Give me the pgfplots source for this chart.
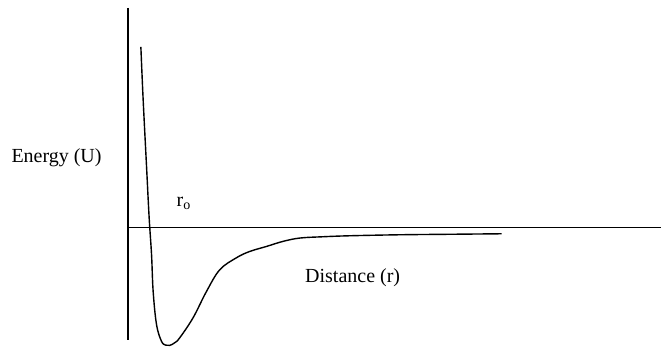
\documentclass[border=0pt]{standalone}
\usepackage{pgfplots}
\pgfplotsset{compat=1.18}
\usepackage{fontspec}
\setmainfont{Liberation Serif}
\begin{document}
\begin{tikzpicture}
\begin{axis}[
  scale only axis, width=662pt, height=347pt,
  xmin=0, xmax=662, ymin=0, ymax=347, y dir=reverse,
  hide axis, clip=false,
]
% keep the full canvas as the picture's extent
\path (axis cs:0,0) rectangle (axis cs:662,347);
% energy and distance axes
\addplot[black, line width=1.3pt] coordinates {(128,8) (128,340)};
\addplot[black, line width=1.3pt] coordinates {(128,228) (662,228)};
% potential energy curve U(r)
\addplot[black, line width=1.4pt, smooth, tension=0.6] coordinates {
  (141,47) (143.3,100) (146.7,167) (149.3,218) (151.7,255) (153.3,291.7)
  (156.7,325) (161.7,341.7) (166,345.5) (170,345.7) (175,343) (180,338)
  (193.3,318) (206.7,291.7) (220,270) (236.7,258) (250,251.7)
  (266.7,246.7) (283,241.7) (300,238.3) (323,237) (350,236) (400,235)
  (450,234.5) (502,234)
};
\node[font=\fontsize{20}{24}\selectfont, anchor=west] at (axis cs:8,158) {Energy (U)};
\node[font=\fontsize{20}{24}\selectfont] at (axis cs:353,278) {Distance (r)};
\node[font=\fontsize{20}{24}\selectfont] at (axis cs:184,204) {r$_\mathrm{o}$};
\end{axis}
\end{tikzpicture}
\end{document}
